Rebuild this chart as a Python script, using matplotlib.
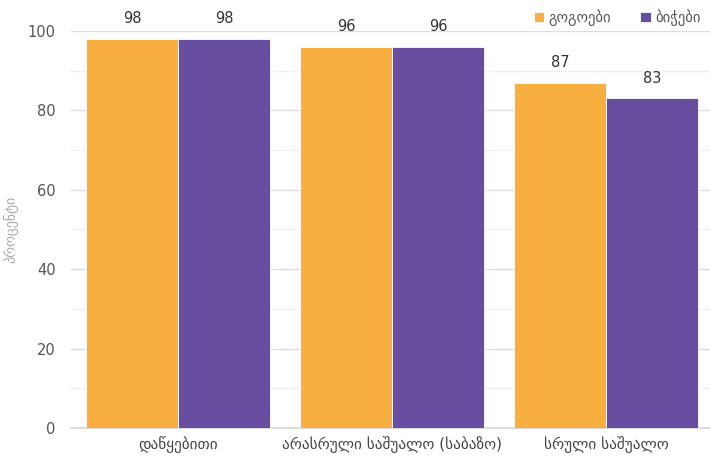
import matplotlib
matplotlib.use("Agg")
import matplotlib.pyplot as plt
import numpy as np
from matplotlib.ticker import MultipleLocator

categories = ["დაწყებითი", "არასრული საშუალო (საბაზო)", "სრული საშუალო"]
series_names = ["გოგოები", "ბიჭები"]
girls = [98, 96, 87]
boys = [98, 96, 83]
colors = ["#F9AE40", "#684EA0"]

plt.rcParams['font.family'] = ['DejaVu Sans']

fig = plt.figure(figsize=(7.1, 4.61), dpi=100)
ax = fig.add_axes([0.1, 0.0716, 0.9, 0.8612])

x = np.arange(len(categories))
w = 0.43
vals = [girls, boys]
for i, (name, v, c) in enumerate(zip(series_names, vals, colors)):
    pos = x + (i - 0.5) * w
    bars = ax.bar(pos, v, width=w, color=c, label=name, edgecolor="white", linewidth=0.6, zorder=3)
    for b, val in zip(bars, v):
        ax.annotate(f"{val}", (b.get_x() + b.get_width() / 2, val), xytext=(0, 9),
                    textcoords="offset points", ha="center", va="bottom",
                    fontsize=10.5, color="#333333", annotation_clip=False)

ax.set_xlim(-0.5, 2.486)
ax.set_ylim(0, 100)
ax.yaxis.set_major_locator(MultipleLocator(20))
ax.yaxis.set_minor_locator(MultipleLocator(10))
ax.grid(axis="y", which="major", color="#DDDDDD", linewidth=1.0, zorder=0)
ax.grid(axis="y", which="minor", color="#F0F0F0", linewidth=1.0, zorder=0)
ax.set_axisbelow(True)

for s in ["top", "right", "left"]:
    ax.spines[s].set_visible(False)
ax.spines["bottom"].set_color("#D6D6D6")
ax.spines["bottom"].set_linewidth(1.2)

ax.tick_params(axis="y", which="both", length=0, pad=11, labelsize=10.5, labelcolor="#555555")
ax.tick_params(axis="x", length=0, pad=6, labelsize=11, labelcolor="#444444")
ax.set_xticks(x)
ax.set_xticklabels(categories)

ax.set_ylabel("პროცენტი", color="#AAAAAA", fontsize=10)
ax.yaxis.set_label_coords(-0.082, 0.5)

leg = fig.legend(loc="upper right", bbox_to_anchor=(1.0, 1.0), ncol=2, frameon=False,
                 fontsize=10.5, handlelength=0.7, handleheight=0.7, handletextpad=0.3,
                 columnspacing=2.0, borderaxespad=0.25)
for t in leg.get_texts():
    t.set_color("#555555")

fig.savefig("out.png", dpi=100)
